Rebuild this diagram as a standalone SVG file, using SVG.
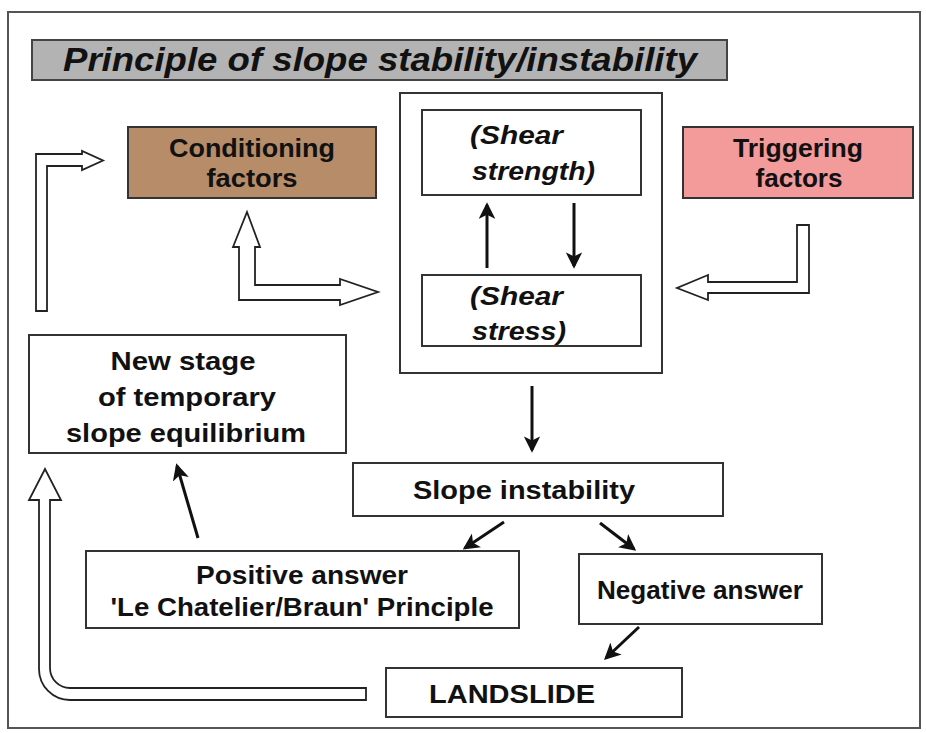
<svg xmlns="http://www.w3.org/2000/svg" width="926" height="733" viewBox="0 0 926 733">
<style>
.box{fill:#fff;stroke:#333;stroke-width:2}
.t{font-family:"Liberation Sans",Arial,sans-serif;font-weight:bold;font-size:25px;fill:#111;text-anchor:middle}
.ti{font-style:italic;text-anchor:start}
.ttl{font-size:33px;font-style:italic}
.ln{stroke:#111;stroke-width:3;fill:none;marker-end:url(#ah)}
.hollow{fill:#fff;stroke:#222;stroke-width:1.8;stroke-linejoin:miter}
</style>
<defs>
<marker id="ah" viewBox="0 0 12 12" refX="10" refY="6" markerWidth="5.5" markerHeight="5.5" orient="auto" markerUnits="strokeWidth">
<path d="M0,0 L12,6 L0,12 L3,6 z" fill="#111"/>
</marker>
</defs>
<rect x="0" y="0" width="926" height="733" fill="#fff"/>
<rect x="8" y="12" width="912" height="716" fill="none" stroke="#555" stroke-width="2"/>
<g id="title">
<rect x="32" y="40" width="695" height="40" fill="#b3b3b3" stroke="#444" stroke-width="2"/>
<text class="t ttl" x="380" y="71" textLength="634" lengthAdjust="spacingAndGlyphs">Principle of slope stability/instability</text>
</g>
<g id="shear-system">
<rect class="box" x="400" y="93" width="262" height="280"/>
</g>
<g id="shear-strength">
<rect class="box" x="422" y="110" width="219" height="85"/>
<text class="t ti" x="470" y="144" textLength="93" lengthAdjust="spacingAndGlyphs">(Shear</text>
<text class="t ti" x="472" y="180" textLength="123" lengthAdjust="spacingAndGlyphs">strength)</text>
</g>
<g id="shear-stress">
<rect class="box" x="422" y="275" width="219" height="71"/>
<text class="t ti" x="470" y="305" textLength="93" lengthAdjust="spacingAndGlyphs">(Shear</text>
<text class="t ti" x="472" y="340" textLength="94" lengthAdjust="spacingAndGlyphs">stress)</text>
</g>
<g id="conditioning">
<rect x="128" y="127" width="248" height="71" fill="#b68c69" stroke="#333" stroke-width="2"/>
<text class="t" x="252" y="157" textLength="166" lengthAdjust="spacingAndGlyphs">Conditioning</text>
<text class="t" x="252" y="187" textLength="91" lengthAdjust="spacingAndGlyphs">factors</text>
</g>
<g id="triggering">
<rect x="683" y="127" width="230" height="71" fill="#f39a9b" stroke="#333" stroke-width="2"/>
<text class="t" x="798" y="157" textLength="130" lengthAdjust="spacingAndGlyphs">Triggering</text>
<text class="t" x="799" y="187" textLength="87" lengthAdjust="spacingAndGlyphs">factors</text>
</g>
<g id="new-stage">
<rect class="box" x="29" y="335" width="317" height="118"/>
<text class="t" x="183" y="370" textLength="145" lengthAdjust="spacingAndGlyphs">New stage</text>
<text class="t" x="187" y="406" textLength="178" lengthAdjust="spacingAndGlyphs">of temporary</text>
<text class="t" x="186" y="442" textLength="240" lengthAdjust="spacingAndGlyphs">slope equilibrium</text>
</g>
<g id="slope-instability">
<rect class="box" x="353" y="463" width="370" height="53"/>
<text class="t" x="524" y="499" textLength="222" lengthAdjust="spacingAndGlyphs">Slope instability</text>
</g>
<g id="positive">
<rect class="box" x="86" y="551" width="433" height="77"/>
<text class="t" x="302" y="584" textLength="212" lengthAdjust="spacingAndGlyphs">Positive answer</text>
<text class="t" x="302" y="616" textLength="383" lengthAdjust="spacingAndGlyphs">'Le Chatelier/Braun' Principle</text>
</g>
<g id="negative">
<rect class="box" x="579" y="554" width="243" height="70"/>
<text class="t" x="700" y="599" textLength="206" lengthAdjust="spacingAndGlyphs">Negative answer</text>
</g>
<g id="landslide">
<rect class="box" x="386" y="668" width="296" height="49"/>
<text class="t" x="512" y="703" textLength="166" lengthAdjust="spacingAndGlyphs">LANDSLIDE</text>
</g>
<g id="connectors">
<line class="ln" x1="487" y1="268" x2="487" y2="205"/>
<line class="ln" x1="574" y1="203" x2="574" y2="266"/>
<line class="ln" x1="532" y1="386" x2="532" y2="450"/>
<line class="ln" x1="504" y1="522" x2="465" y2="548"/>
<line class="ln" x1="600" y1="523" x2="634" y2="549"/>
<line class="ln" x1="639" y1="627" x2="606" y2="658"/>
<line class="ln" x1="198" y1="538" x2="177" y2="466"/>
<path class="hollow" d="M36,311 L36,154 L82,154 L82,151 L103,160.5 L82,170 L82,166 L47,166 L47,311 Z"/>
<path class="hollow" d="M247,212 L260,247 L255,247 L255,285 L340,285 L340,279 L378,292 L340,305 L340,300 L239,300 L239,247 L233,247 Z"/>
<path class="hollow" d="M797,225 L809,225 L809,293 L708,293 L708,300 L677,288 L708,275 L708,282 L797,282 Z"/>
<path class="hollow" d="M366,688 L70,688 A20,20 0 0 1 50,668 L50,500 L61,500 L45,469 L29,500 L39,500 L39,669 A31,31 0 0 0 70,700 L366,700 Z"/>
</g>
</svg>
